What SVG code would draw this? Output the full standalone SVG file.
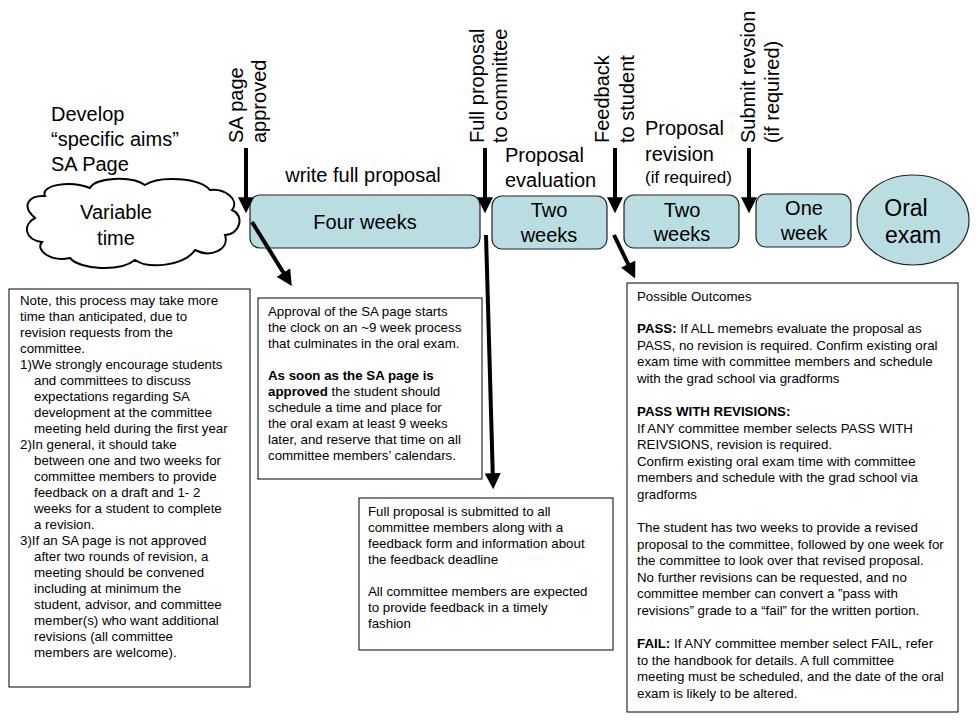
<svg xmlns="http://www.w3.org/2000/svg" width="980" height="723" viewBox="0 0 980 723">
<style>
text{font-family:"Liberation Sans",Arial,sans-serif;fill:#000}
.big{font-size:20px}
.sm{font-size:13.3px}
.box{fill:#b9dde0;stroke:#222;stroke-width:1.2}
.nb{fill:#fff;stroke:#000;stroke-width:1}
.arr{stroke:#000;stroke-width:4;fill:none;marker-end:url(#ah)}
</style>
<defs><marker id="ah" markerWidth="4" markerHeight="4" refX="2.2" refY="2" orient="auto"><path d="M0,0L4,2L0,4Z" fill="#000"/></marker></defs>
<rect width="980" height="723" fill="#fff"/>
<g id="cloud">
<path d="M35,218 C20,205 30,195 45,196 C40,185 70,180 90,188 C95,178 130,175 145,185 C160,175 200,178 210,190 C225,188 240,200 232,210 C245,215 240,235 225,235 C230,250 210,258 195,250 C185,265 150,270 135,260 C120,272 80,270 70,258 C50,262 35,250 42,242 C25,240 22,225 35,218Z" fill="#fff" stroke="#000" stroke-width="2"/>
<text class="big" x="116" y="219" text-anchor="middle">Variable</text>
<text class="big" x="116" y="245" text-anchor="middle">time</text>
<text class="big" x="51" y="121">Develop</text>
<text class="big" x="51" y="146">“specific aims”</text>
<text class="big" x="51" y="171">SA Page</text>
</g>
<g id="four"><rect class="box" x="250" y="195" width="230" height="53" rx="10"/><text class="big" x="365" y="229" text-anchor="middle">Four weeks</text>
<text class="big" x="363" y="182" text-anchor="middle">write full proposal</text></g>
<g id="eval"><rect class="box" x="492" y="196" width="115" height="53" rx="10"/><text class="big" x="549" y="217" text-anchor="middle">Two</text><text class="big" x="549" y="242" text-anchor="middle">weeks</text>
<text class="big" x="505" y="162">Proposal</text><text class="big" x="505" y="187">evaluation</text></g>
<g id="rev"><rect class="box" x="624" y="195" width="115" height="53" rx="10"/><text class="big" x="682" y="217" text-anchor="middle">Two</text><text class="big" x="682" y="241" text-anchor="middle">weeks</text>
<text class="big" x="645" y="135">Proposal</text><text class="big" x="645" y="161">revision</text><text x="645" y="183" style="font-size:17px">(if required)</text></g>
<g id="week"><rect class="box" x="756" y="194" width="95" height="53" rx="10"/><text class="big" x="804" y="215" text-anchor="middle">One</text><text class="big" x="804" y="240" text-anchor="middle">week</text></g>
<g id="oral"><ellipse class="box" cx="913" cy="220" rx="56" ry="45"/><text x="906" y="216" text-anchor="middle" style="font-size:23px">Oral</text><text x="913" y="243" text-anchor="middle" style="font-size:23px">exam</text></g>
<g id="labels">
<text class="big" transform="translate(243,143) rotate(-90)">SA page</text>
<text class="big" transform="translate(266,143) rotate(-90)">approved</text>
<text class="big" transform="translate(484,143) rotate(-90)">Full proposal</text>
<text class="big" transform="translate(507,143) rotate(-90)">to committee</text>
<text class="big" transform="translate(609,143) rotate(-90)">Feedback</text>
<text class="big" transform="translate(634,143) rotate(-90)">to student</text>
<text class="big" transform="translate(755,143) rotate(-90)">Submit revsion</text>
<text class="big" transform="translate(779,143) rotate(-90)">(if required)</text>
</g>
<g id="connectors">
<path class="arr" d="M246,148V206"/>
<path class="arr" d="M485,148V206"/>
<path class="arr" d="M615,148V206"/>
<path class="arr" d="M749,148V206"/>
<path class="arr" d="M252,222L288,280"/>
<path class="arr" d="M486,235L493,482"/>
<path class="arr" d="M614,235L632,272"/>
</g>
<g id="note1"><rect class="nb" x="9" y="289" width="241" height="398"/>
<text class="sm"><tspan x="20" y="305">Note, this process may take more</tspan><tspan x="20" y="321">time than anticipated, due to</tspan><tspan x="20" y="337">revision requests from the</tspan><tspan x="20" y="353">committee.</tspan><tspan x="20" y="369">1)We strongly encourage students</tspan><tspan x="34" y="385">and committees to discuss</tspan><tspan x="34" y="401">expectations regarding SA</tspan><tspan x="34" y="417">development at the committee</tspan><tspan x="34" y="433">meeting held during the first year</tspan><tspan x="20" y="449">2)In general, it should take</tspan><tspan x="34" y="465">between one and two weeks for</tspan><tspan x="34" y="481">committee members to provide</tspan><tspan x="34" y="497">feedback on a draft and 1- 2</tspan><tspan x="34" y="513">weeks for a student to complete</tspan><tspan x="34" y="529">a revision.</tspan><tspan x="20" y="545">3)If an SA page is not approved</tspan><tspan x="34" y="561">after two rounds of revision, a</tspan><tspan x="34" y="577">meeting should be convened</tspan><tspan x="34" y="593">including at minimum the</tspan><tspan x="34" y="609">student, advisor, and committee</tspan><tspan x="34" y="625">member(s) who want additional</tspan><tspan x="34" y="641">revisions (all committee</tspan><tspan x="34" y="657">members are welcome).</tspan></text></g>
<g id="note2"><rect class="nb" x="258" y="298" width="224" height="181"/>
<text class="sm"><tspan x="268" y="316">Approval of the SA page starts</tspan><tspan x="268" y="332">the clock on an ~9 week process</tspan><tspan x="268" y="348">that culminates in the oral exam.</tspan><tspan x="268" y="380" font-weight="bold">As soon as the SA page is</tspan><tspan x="268" y="396"><tspan font-weight="bold">approved</tspan> the student should</tspan><tspan x="268" y="412">schedule a time and place for</tspan><tspan x="268" y="428">the oral exam at least 9 weeks</tspan><tspan x="268" y="444">later, and reserve that time on all</tspan><tspan x="268" y="460">committee members’ calendars.</tspan></text></g>
<g id="note3"><rect class="nb" x="359" y="498" width="254" height="152"/>
<text class="sm"><tspan x="368" y="516">Full proposal is submitted to all</tspan><tspan x="368" y="532">committee members along with a</tspan><tspan x="368" y="548">feedback form and information about</tspan><tspan x="368" y="564">the feedback deadline</tspan><tspan x="368" y="596">All committee members are expected</tspan><tspan x="368" y="612">to provide feedback in a timely</tspan><tspan x="368" y="628">fashion</tspan></text></g>
<g id="note4"><rect class="nb" x="627" y="283" width="331" height="429"/>
<text class="sm"><tspan x="637" y="301">Possible Outcomes</tspan>
<tspan x="637" y="333"><tspan font-weight="bold">PASS:</tspan> If ALL memebrs evaluate the proposal as</tspan><tspan x="637" y="349.5">PASS, no revision is required. Confirm existing oral</tspan><tspan x="637" y="366">exam time with committee members and schedule</tspan><tspan x="637" y="382.5">with the grad school via gradforms</tspan>
<tspan x="637" y="416" font-weight="bold">PASS WITH REVISIONS:</tspan><tspan x="637" y="432.5">If ANY committee member selects PASS WITH</tspan><tspan x="637" y="449">REIVSIONS, revision is required.</tspan><tspan x="637" y="465.5">Confirm existing oral exam time with committee</tspan><tspan x="637" y="482">members and schedule with the grad school via</tspan><tspan x="637" y="498.5">gradforms</tspan>
<tspan x="637" y="532">The student has two weeks to provide a revised</tspan><tspan x="637" y="548.5">proposal to the committee, followed by one week for</tspan><tspan x="637" y="565">the committee to look over that revised proposal.</tspan><tspan x="637" y="581.5">No further revisions can be requested, and no</tspan><tspan x="637" y="598">committee member can convert a ”pass with</tspan><tspan x="637" y="614.5">revisions” grade to a “fail” for the written portion.</tspan>
<tspan x="637" y="648"><tspan font-weight="bold">FAIL:</tspan> If ANY committee member select FAIL, refer</tspan><tspan x="637" y="664.5">to the handbook for details. A full committee</tspan><tspan x="637" y="681">meeting must be scheduled, and the date of the oral</tspan><tspan x="637" y="697.5">exam is likely to be altered.</tspan></text></g>
</svg>
